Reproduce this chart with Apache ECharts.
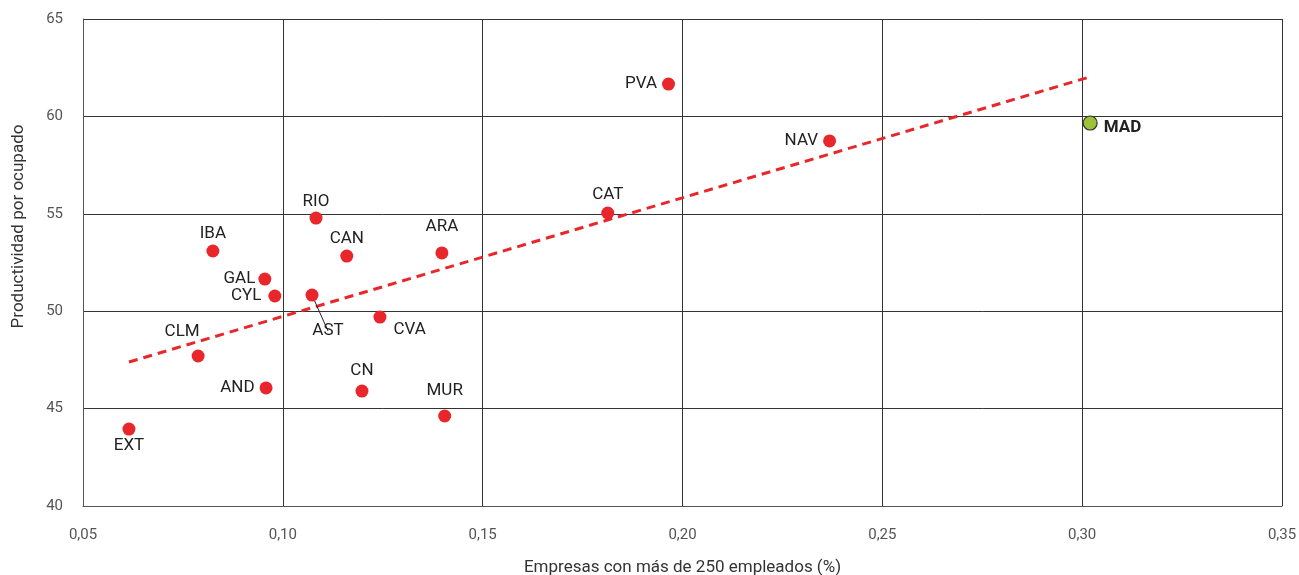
<!DOCTYPE html>
<html>
<head>
<meta charset="utf-8">
<script src="https://cdn.jsdelivr.net/npm/echarts@6/dist/echarts.min.js"></script>
<style>
html, body { margin: 0; padding: 0; background: #fff; }
#chart { width: 1299px; height: 575px; }
</style>
</head>
<body>
<div id="chart"></div>
<script>
// regiones y valores
const regiones = ['PVA', 'NAV', 'CAT', 'RIO', 'IBA', 'CAN', 'ARA', 'GAL', 'CYL', 'AST', 'CVA', 'CLM', 'AND', 'CN', 'MUR', 'EXT'];
const empresas = [0.1965, 0.2368, 0.1813, 0.1083, 0.0825, 0.1160, 0.1398, 0.0955, 0.0980, 0.1073, 0.1243, 0.0788, 0.0958, 0.1198, 0.1405, 0.0615];
const productividad = [61.66, 58.74, 55.04, 54.78, 53.09, 52.83, 52.99, 51.65, 50.78, 50.83, 49.70, 47.70, 46.06, 45.90, 44.62, 43.95];

const madrid = ['MAD'];
const madEmpresas = [0.302];
const madProductividad = [59.66];

// extremos de la línea de tendencia
const tendenciaX = [0.0615, 0.3018];
const tendenciaY = [47.39, 62.02];

// posición de las etiquetas (solo estilo)
const labelPos = {
    PVA: { position: 'left', distance: 5 },
    NAV: { position: 'left', distance: 5 },
    CAT: { position: 'top', distance: 3 },
    RIO: { position: 'top', distance: 1 },
    IBA: { position: 'top', distance: 2 },
    CAN: { position: 'top', distance: 2 },
    ARA: { position: 'top', distance: 11 },
    GAL: { position: 'left', distance: 3 },
    CYL: { position: 'left', distance: 7 },
    AST: { position: 'bottom', distance: 21, offset: [16, 0] },
    CVA: { position: 'right', distance: 7, offset: [0, 13] },
    CLM: { position: 'top', distance: 9, offset: [-16, 0] },
    AND: { position: 'left', distance: 5 },
    CN: { position: 'top', distance: 5 },
    MUR: { position: 'top', distance: 10 },
    EXT: { position: 'bottom', distance: 2 }
};

const rojo = '#e8262b';
const font = 'Roboto, "DejaVu Sans", sans-serif';

let puntos = regiones.map((r, i) => {
    let p = labelPos[r];
    let item = {
        name: r,
        value: [empresas[i], productividad[i]],
        label: { position: p.position, distance: p.distance, offset: p.offset || [0, 0] }
    };
    if (r === 'AST') {
        item.labelLine = { show: true, lineStyle: { color: '#222', width: 1 } };
        item.labelLayout = { dx: 0, dy: 0 };
    }
    return item;
});

let chart = echarts.init(document.getElementById('chart'));
let fmt = v => v.toFixed(2).replace('.', ',');

chart.setOption({
    backgroundColor: '#ffffff',
    animation: false,
    textStyle: { fontFamily: font },
    grid: { left: 83, right: 17, top: 19, bottom: 69, containLabel: false, outerBoundsMode: 'none' },
    xAxis: {
        type: 'value',
        min: 0.05,
        max: 0.35,
        interval: 0.05,
        name: 'Empresas con más de 250 empleados (%)',
        nameLocation: 'middle',
        nameGap: 53,
        nameTextStyle: { color: '#333', fontSize: 17, fontFamily: font },
        axisLine: { show: true, lineStyle: { color: '#555', width: 1 } },
        axisTick: { show: false },
        axisLabel: { color: '#555', fontSize: 15, margin: 22, formatter: fmt },
        splitLine: { show: true, lineStyle: { color: '#333', width: 1 } }
    },
    yAxis: {
        type: 'value',
        min: 40,
        max: 65,
        interval: 5,
        name: 'Productividad por ocupado',
        nameLocation: 'middle',
        nameGap: 56,
        nameTextStyle: { color: '#333', fontSize: 17, fontFamily: font, padding: [0, 0, 0, 72] },
        axisLine: { show: true, lineStyle: { color: '#555', width: 1 } },
        axisTick: { show: false },
        axisLabel: { color: '#555', fontSize: 15, margin: 20 },
        splitLine: { show: true, lineStyle: { color: '#333', width: 1 } }
    },
    series: [
        {
            type: 'line',
            data: tendenciaX.map((x, i) => [x, tendenciaY[i]]),
            symbol: 'none',
            silent: true,
            lineStyle: { color: rojo, width: 3, type: [9, 6] },
            z: 2
        },
        {
            type: 'scatter',
            data: puntos,
            symbolSize: 13,
            itemStyle: { color: rojo, opacity: 1 },
            label: {
                show: true,
                formatter: '{b}',
                color: '#222',
                fontSize: 17,
                fontFamily: font
            },
            z: 3
        },
        {
            type: 'scatter',
            data: madrid.map((r, i) => ({ name: r, value: [madEmpresas[i], madProductividad[i]] })),
            symbolSize: 14,
            itemStyle: { color: '#9dc23a', borderColor: '#333', borderWidth: 1.2, opacity: 1 },
            label: {
                show: true,
                formatter: '{b}',
                position: 'right',
                distance: 6,
                offset: [0, 5],
                color: '#222',
                fontSize: 17,
                fontWeight: 'bold',
                fontFamily: font
            },
            z: 4
        }
    ]
});
</script>
</body>
</html>
